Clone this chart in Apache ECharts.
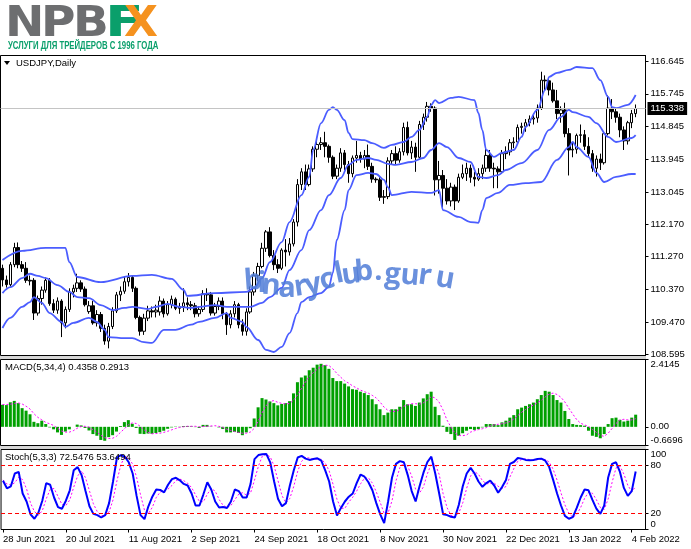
<!DOCTYPE html>
<html><head><meta charset="utf-8">
<script src="https://cdn.jsdelivr.net/npm/echarts@6/dist/echarts.min.js"></script>
<style>html,body{margin:0;padding:0;background:#fff}#c{width:691px;height:549px}</style>
</head><body><div id="c"></div>
<script>
// ---------- DATA ----------
const tradingDays = [
 ['Jun 2021',[28,29,30]],
 ['Jul 2021',[1,2,5,6,7,8,9,12,13,14,15,16,19,20,21,22,23,26,27,28,29,30]],
 ['Aug 2021',[2,3,4,5,6,9,10,11,12,13,16,17,18,19,20,23,24,25,26,27,30,31]],
 ['Sep 2021',[1,2,3,6,7,8,9,10,13,14,15,16,17,20,21,22,23,24,27,28,29,30]],
 ['Oct 2021',[1,4,5,6,7,8,11,12,13,14,15,18,19,20,21,22,25,26,27,28,29]],
 ['Nov 2021',[1,2,3,4,5,7,8,9,10,11,12,15,16,17,18,19,22,23,24,25,26,29,30]],
 ['Dec 2021',[1,2,3,6,7,8,9,10,13,14,15,16,17,20,21,22,23,24,27,28,29,30,31]],
 ['Jan 2022',[3,4,5,6,7,10,11,12,13,14,17,18,19,20,21,24,25,26,27,28,31]],
 ['Feb 2022',[1,2,3,4,7]]
];
const categories = [];
tradingDays.forEach(([m, ds]) => ds.forEach(d => categories.push(d + ' ' + m)));
categories.push('', ''); // right-hand chart shift

const opens = [110.95,110.63,110.50,111.05,111.52,111.05,110.95,110.62,110.62,109.72,110.12,110.35,110.62,109.98,109.80,110.05,109.45,109.82,110.30,110.40,110.55,110.38,109.76,109.92,109.45,109.68,109.30,108.95,109.35,109.78,110.22,110.32,110.58,110.70,110.40,109.60,109.22,109.58,109.78,109.75,109.75,110.05,109.70,109.95,110.10,109.85,109.90,110.00,109.95,109.92,109.70,109.82,110.25,110.22,109.72,109.90,110.05,109.70,109.40,109.70,109.95,109.40,109.22,109.75,110.30,110.75,111.00,111.50,111.95,111.30,111.05,110.95,111.45,111.40,111.62,112.22,113.25,113.60,113.25,113.68,114.22,114.35,114.40,114.30,114.00,113.48,113.70,114.12,113.80,113.55,113.98,114.05,113.95,114.05,113.75,113.40,113.38,112.90,112.92,113.90,114.10,113.92,114.15,114.82,114.12,114.28,114.00,114.90,115.10,115.40,115.35,113.38,113.50,113.15,112.80,113.18,112.80,113.45,113.55,113.70,113.45,113.40,113.55,113.70,114.05,113.70,113.68,113.60,114.10,114.15,114.40,114.42,114.82,114.85,114.95,115.05,115.08,115.35,116.12,116.10,115.85,115.55,115.20,115.30,114.65,114.20,114.22,114.60,114.62,114.30,114.10,113.70,113.95,113.85,114.65,115.35,115.25,115.10,114.75,114.45,114.95,115.20];
const closes = [110.63,110.50,111.05,111.52,111.05,110.95,110.62,110.60,109.72,110.12,110.35,110.62,109.98,109.80,110.05,109.45,109.82,110.30,110.40,110.55,110.38,109.95,109.92,109.45,109.68,109.30,108.95,109.35,109.78,110.22,110.32,110.58,110.70,110.40,109.60,109.22,109.58,109.78,109.75,109.80,110.05,109.70,109.95,110.10,109.85,109.90,110.00,109.95,109.92,109.70,109.82,110.25,110.22,109.72,109.90,110.05,109.70,109.40,109.70,109.95,109.40,109.22,109.75,110.30,110.75,111.00,111.50,111.95,111.30,111.05,110.95,111.45,111.40,111.62,112.22,113.25,113.60,113.25,113.68,114.22,114.35,114.40,114.30,114.00,113.48,113.70,114.12,113.80,113.55,113.98,114.05,113.95,114.05,113.75,113.40,113.38,112.90,112.92,113.90,114.10,113.92,114.15,114.82,114.12,114.28,114.00,114.90,115.10,115.40,115.35,113.38,113.50,113.15,112.80,113.18,112.80,113.45,113.55,113.70,113.45,113.40,113.55,113.70,114.05,113.70,113.68,113.60,114.10,114.15,114.40,114.42,114.82,114.85,114.95,115.05,115.08,115.35,116.12,116.10,115.85,115.55,115.20,115.30,114.65,114.20,114.22,114.60,114.62,114.30,114.10,113.70,113.95,113.85,114.65,115.35,115.25,115.10,114.75,114.45,114.95,115.20,115.34];
const lows = [110.45,110.42,110.45,110.98,110.95,110.85,110.55,110.48,109.53,109.65,109.95,110.28,109.92,109.72,109.70,109.06,109.30,109.75,110.15,110.30,110.30,109.90,109.70,109.40,109.35,109.20,108.85,108.75,109.28,109.72,110.05,110.25,110.45,110.30,109.55,109.10,109.12,109.50,109.60,109.60,109.65,109.60,109.65,109.85,109.80,109.70,109.75,109.80,109.80,109.60,109.62,109.75,110.05,109.65,109.65,109.80,109.55,109.12,109.30,109.60,109.30,109.10,109.10,109.70,110.20,110.60,110.95,111.40,111.25,110.90,110.82,110.90,111.00,111.30,111.55,112.10,113.10,113.10,113.20,113.60,114.00,114.20,114.00,113.85,113.40,113.40,113.60,113.65,113.30,113.45,113.85,113.85,113.70,113.65,113.30,113.30,112.80,112.72,112.85,113.80,113.80,113.85,114.05,114.05,113.95,113.60,113.95,114.75,114.98,115.25,112.95,113.00,112.55,112.70,112.65,112.55,112.75,113.40,113.35,113.30,113.20,113.35,113.40,113.60,113.60,113.15,113.15,113.55,113.95,114.05,114.25,114.35,114.65,114.70,114.85,114.90,114.95,115.30,115.85,115.70,115.50,115.05,114.95,114.55,113.50,114.00,114.10,114.40,114.20,114.00,113.60,113.47,113.65,113.80,114.60,115.05,114.95,114.55,114.20,114.35,114.80,115.10];
const highs = [111.05,110.75,111.12,111.65,111.66,111.15,111.12,110.75,110.68,110.20,110.45,110.70,110.68,110.10,110.15,110.10,109.90,110.40,110.50,110.80,110.62,110.45,110.05,110.05,109.80,109.75,109.40,109.45,109.88,110.30,110.45,110.72,110.82,110.75,110.45,109.65,109.70,109.92,109.90,109.95,110.18,110.12,110.05,110.20,110.15,110.00,110.40,110.15,110.05,110.00,109.90,110.35,110.40,110.30,110.00,110.15,110.15,109.75,109.80,110.05,110.00,109.55,109.85,110.45,110.85,111.10,111.65,112.00,112.08,111.45,111.20,111.50,111.75,111.78,112.30,113.40,113.70,113.80,113.80,114.30,114.45,114.55,114.70,114.35,114.05,113.80,114.25,114.20,113.90,114.05,114.45,114.15,114.20,114.35,113.85,113.45,113.45,113.10,114.00,114.20,114.30,114.25,114.95,114.98,114.45,114.40,115.00,115.20,115.52,115.48,115.40,113.90,113.65,113.40,113.30,113.25,113.55,113.80,113.85,113.80,113.60,113.70,113.80,114.25,114.20,113.85,113.75,114.20,114.30,114.50,114.55,114.90,114.95,115.05,115.15,115.20,115.45,116.35,116.25,116.15,116.05,115.85,115.40,115.50,114.80,114.40,114.65,114.90,114.75,114.55,114.20,114.05,114.10,114.70,115.70,115.60,115.35,115.20,114.85,115.00,115.30,115.45];

const bbUpper = [[0,111.18],[5,111.43],[11,111.51],[16,111.51],[17,111.12],[19,110.71],[25,110.57],[33,110.74],[38,110.77],[43,110.66],[46,110.36],[47,110.19],[54,110.27],[62,110.30],[64,110.41],[66,110.68],[68,111.12],[71,111.67],[73,112.22],[76,112.96],[78,113.46],[79,114.20],[81,114.94],[83,115.30],[84,115.38],[85,115.30],[87,115.02],[88,114.67],[89,114.50],[92,114.47],[94,114.39],[97,114.26],[99,114.34],[102,114.42],[104,114.56],[106,114.75],[108,115.11],[109,115.44],[110,115.57],[111,115.49],[114,115.63],[116,115.66],[120,115.57],[121,115.22],[122,114.75],[123,114.20],[125,114.01],[127,114.12],[130,114.20],[132,114.56],[133,114.83],[136,115.30],[138,115.85],[139,116.21],[141,116.32],[144,116.40],[146,116.48],[150,116.45],[152,116.12],[154,115.66],[155,115.38],[156,115.35],[159,115.44],[161,115.71]];
const bbMiddle = [[0,110.27],[2,110.43],[5,110.68],[7,110.80],[9,110.74],[11,110.68],[14,110.49],[17,110.30],[19,110.16],[22,110.13],[25,109.94],[28,109.80],[31,109.86],[33,109.89],[37,109.83],[39,109.89],[42,109.97],[45,109.89],[48,109.86],[50,109.89],[54,109.94],[57,109.89],[61,109.89],[63,109.89],[66,110.00],[68,110.16],[71,110.41],[73,110.90],[76,111.45],[78,112.00],[81,112.55],[83,112.96],[86,113.43],[88,113.79],[90,113.93],[93,113.98],[95,113.93],[98,113.82],[100,113.79],[104,113.87],[107,113.98],[109,114.20],[111,114.39],[113,114.28],[116,113.98],[119,113.87],[121,113.46],[123,113.43],[126,113.51],[128,113.65],[132,113.84],[136,114.20],[139,114.75],[142,115.11],[144,115.30],[145,115.24],[149,115.11],[151,114.94],[154,114.56],[156,114.42],[160,114.53],[161,114.61]];
const bbLower = [[0,109.31],[2,109.59],[5,109.89],[7,110.02],[8,110.16],[10,110.00],[12,109.72],[15,109.48],[16,109.34],[18,109.45],[22,109.59],[24,109.48],[26,109.26],[27,109.06],[31,109.03],[33,109.03],[36,108.92],[38,108.90],[41,109.26],[44,109.26],[48,109.40],[50,109.48],[54,109.59],[57,109.72],[58,109.59],[61,109.48],[62,109.34],[65,108.98],[67,108.71],[69,108.65],[71,108.79],[73,109.17],[75,109.72],[76,110.02],[78,110.16],[81,110.27],[83,110.44],[84,110.82],[85,111.73],[87,112.55],[88,113.10],[90,113.51],[93,113.57],[95,113.54],[97,113.38],[98,113.18],[99,112.96],[104,113.05],[109,113.02],[111,113.10],[112,112.55],[116,112.36],[119,112.22],[121,112.20],[122,112.55],[123,112.88],[126,113.02],[129,113.24],[133,113.29],[137,113.32],[141,113.93],[144,114.28],[145,114.42],[146,114.28],[149,114.01],[151,113.57],[153,113.32],[156,113.46],[160,113.54],[161,113.54]];

const macdMain = [0.79,0.78,0.88,0.93,0.85,0.67,0.58,0.45,0.18,0.13,0.22,0.10,-0.02,-0.09,-0.20,-0.29,-0.17,-0.09,0.00,0.08,0.05,-0.04,-0.13,-0.26,-0.32,-0.47,-0.50,-0.37,-0.30,-0.17,0.03,0.17,0.24,0.11,-0.04,-0.25,-0.26,-0.24,-0.25,-0.22,-0.19,-0.14,-0.07,-0.02,0.01,-0.01,0.03,0.03,0.02,-0.01,-0.04,0.07,0.07,0.01,0.00,-0.02,-0.08,-0.20,-0.20,-0.18,-0.22,-0.30,-0.20,-0.05,0.30,0.70,1.03,0.98,0.91,0.85,0.77,0.82,0.85,0.92,1.20,1.60,1.77,1.84,2.03,2.12,2.23,2.26,2.21,2.08,1.75,1.64,1.64,1.55,1.45,1.35,1.33,1.26,1.21,1.14,0.99,0.81,0.63,0.42,0.51,0.63,0.63,0.72,0.96,0.81,0.81,0.75,0.87,1.02,1.17,1.26,0.72,0.42,0.04,-0.18,-0.26,-0.47,-0.32,-0.23,-0.14,-0.08,-0.11,-0.08,-0.02,0.10,0.10,0.10,0.06,0.16,0.22,0.33,0.42,0.63,0.69,0.75,0.81,0.87,0.99,1.14,1.29,1.26,1.14,0.96,0.87,0.57,0.28,0.10,0.07,0.06,0.04,-0.14,-0.32,-0.36,-0.41,-0.26,0.10,0.31,0.33,0.25,0.19,0.22,0.33,0.4358];
const macdSignal = [0.80,0.80,0.81,0.84,0.86,0.82,0.74,0.64,0.47,0.34,0.25,0.16,0.11,0.05,-0.05,-0.15,-0.19,-0.19,-0.14,-0.05,0.01,0.02,-0.01,-0.10,-0.19,-0.30,-0.39,-0.42,-0.41,-0.34,-0.20,-0.07,0.07,0.14,0.12,0.02,-0.11,-0.20,-0.25,-0.24,-0.23,-0.20,-0.16,-0.11,-0.06,-0.02,0.00,0.02,0.02,0.02,0.00,0.01,0.02,0.03,0.04,0.02,-0.02,-0.08,-0.13,-0.17,-0.20,-0.23,-0.23,-0.19,-0.06,0.19,0.50,0.75,0.91,0.94,0.88,0.84,0.82,0.84,0.95,1.14,1.37,1.60,1.81,1.94,2.06,2.16,2.21,2.20,2.08,1.92,1.78,1.65,1.57,1.47,1.40,1.32,1.26,1.21,1.13,1.04,0.89,0.71,0.59,0.55,0.55,0.62,0.74,0.78,0.83,0.83,0.81,0.86,0.95,1.08,1.04,0.89,0.61,0.25,0.00,-0.22,-0.31,-0.32,-0.29,-0.19,-0.14,-0.10,-0.07,-0.03,0.03,0.07,0.09,0.11,0.14,0.19,0.28,0.40,0.52,0.62,0.72,0.78,0.86,0.95,1.07,1.17,1.21,1.16,1.06,0.89,0.67,0.46,0.26,0.13,0.07,0.01,-0.09,-0.20,-0.31,-0.34,-0.23,-0.06,0.12,0.25,0.27,0.25,0.25,0.2913];

const stochMain = [61,51.5,54,70,72,45,35,19,13.4,21,36,58,56,40,28,26,36,49,74,78,68,48,29,19.5,18,15,18,33,60,90,93,91,84,70,42,18,13,29,41,50,49.5,46.4,56,63,64.6,61.5,57,55,45,30,30,44,59,50,35,27.5,28,27,35,50,48,40,40,57,88,93,94,94.5,84,60,38,29,33,55,74,90,92,88.6,87,88,89,86,74,60,35,17.5,27,35,41,45,58,68.7,66,59,49,33,19,8,35,65,82,85.5,84,68,48,35,54,71,84.4,91,70,45,19,18,16,15,31,54,70,77,70,60,53.4,58,61,55,46,53,62,82,84.4,89.4,88.6,87,86.5,87,88,88.6,86,78,62,45,30,17,13.4,15.5,27,40,50,49,37,26,19.5,30,65,82,84,72,52,42,48,72.5476];
const stochSignal = [62,57,55.5,58.5,65.3,62.3,50.7,33,22.5,17.8,23.5,38.3,50,51.3,41.3,31.3,30,37,53,67,73.3,64.7,48.3,32.2,22.2,17.5,17,22,37,61,81,91.3,89.3,81.7,65.3,43.3,24.3,20,27.7,40,46.8,48.6,50.6,55.1,61.2,63,61,57.8,52.3,43.3,35,34.7,44.3,51,48,37.5,30.2,27.5,30,37.3,44.3,46,42.7,45.7,61.7,79.3,91.7,93.8,90.8,79.5,60.7,42.3,33.3,39,54,73,85.3,90.2,89.2,87.9,88,87.7,83,73.3,56.3,37.5,26.5,26.5,34.3,40.3,48,57.2,64.2,64.6,58,47,33.7,20,20.7,36,60.7,77.5,83.8,79.2,66.7,50.3,45.7,53.3,69.8,82.1,81.8,68.7,44.7,27.3,17.7,16.3,20.7,33.3,51.7,67,72.3,69,61.1,57.1,57.5,58,54,51.3,53.7,65.7,76.1,85.3,87.5,88.3,87.4,86.8,87.2,87.9,87.5,84.2,75.3,61.7,45.7,30.7,20.1,15.3,18.6,27.5,39,46.3,45.3,37.3,27.5,25.2,38.2,59,77,79.3,69.3,55.3,47.3,53.6494];

const priceTicks = [108.595,109.470,110.370,111.270,112.170,113.045,113.945,114.845,115.745,116.645];
const macdTicks = [-0.6696,0,2.4145];
const stochTicks = [0,20,80,100];
const stochLevels = [20,80];
const lastPrice = 115.338;
const symbolTitle = 'USDJPY,Daily';
const macdTitle = 'MACD(5,34,4) 0.4358 0.2913';
const stochTitle = 'Stoch(5,3,3) 72.5476 53.6494';
const logoParts = ['N','P','B','F','X'];
const logoTagline = 'УСЛУГИ ДЛЯ ТРЕЙДЕРОВ С 1996 ГОДА';
const watermark = 'binaryclub.guru';

// ---------- CHART ----------
const FONT = '"Liberation Sans", Arial, sans-serif';
const chart = echarts.init(document.getElementById('c'));
const candleData = opens.map((o, i) => [o, closes[i], lows[i], highs[i]]);
const hiddenX = {type:'category', data:categories, axisLine:{show:false}, axisTick:{show:false}, axisLabel:{show:false}, splitLine:{show:false}};
const lbl = {color:'#000', fontSize:9.5, fontFamily:FONT};

// watermark letter layout (centre x, centre y, rotation deg clockwise)
const wmLayout = [[253,281,-4],[262,284,0],[271,286,4],[287,289,0],[300.5,287,-8],[313,285,-12],[327,280,-15],[339,274,-12],[351,275,-8],[364,272,-5],[378.5,272,0],[392.5,275,3],[410,276,5],[425,276,8],[445,279,10]];
const wmEls = watermark.split('').map((ch, k) => ({
  type:'text', x:wmLayout[k][0], y:wmLayout[k][1], rotation:-wmLayout[k][2]*Math.PI/180, z:50, silent:true,
  style:{text:ch, font:'bold 29px "Open Sans"', fill:'rgba(80,125,215,0.85)', align:'center', verticalAlign:'middle'}
}));
// logo letter layout: x, colour, horizontal scale
const logoLayout = [[5,'#6d6e70',1.12],[41,'#6d6e70',1.12],[73,'#6d6e70',1.12],[105,'#0a9f6b',1.35],[124,'#f5921f',1.05]];
const logoEls = logoParts.map((ch, k) => ({
  type:'text', x:logoLayout[k][0], y:25, scaleX:logoLayout[k][2], z:60 + k, silent:true,
  style:{text:ch, font:'bold 42px "DejaVu Sans"', fill:logoLayout[k][1], align:'left', verticalAlign:'middle'}
}));

const option = {
  animation:false,
  backgroundColor:'#fff',
  grid:[
    {left:0.5, top:55.5, width:645, height:300, show:true, borderColor:'#000', borderWidth:1, backgroundColor:'#fff'},
    {left:0.5, top:359.5, width:645, height:86, show:true, borderColor:'#000', borderWidth:1, backgroundColor:'#fff'},
    {left:0.5, top:449.5, width:645, height:80, show:true, borderColor:'#000', borderWidth:1, backgroundColor:'#fff'}
  ],
  xAxis:[
    Object.assign({gridIndex:0}, hiddenX),
    Object.assign({gridIndex:1}, hiddenX),
    {type:'category', gridIndex:2, data:categories, axisLine:{show:false},
     axisTick:{show:true, interval:15, alignWithLabel:true, length:3, lineStyle:{color:'#000'}},
     axisLabel:Object.assign({interval:15, align:'left', margin:5}, lbl), splitLine:{show:false}}
  ],
  yAxis:[
    {type:'value', gridIndex:0, position:'right', min:108.554, max:116.796,
     axisLine:{show:true, lineStyle:{color:'#000'}},
     axisTick:{show:true, length:3, customValues:priceTicks, lineStyle:{color:'#000'}},
     axisLabel:Object.assign({customValues:priceTicks, margin:5, formatter:v => v.toFixed(3)}, lbl),
     splitLine:{show:false}},
    {type:'value', gridIndex:1, position:'right', min:macdTicks[0], max:macdTicks[2],
     axisLine:{show:true, lineStyle:{color:'#000'}},
     axisTick:{show:true, length:3, customValues:macdTicks, lineStyle:{color:'#000'}},
     axisLabel:Object.assign({customValues:macdTicks, margin:5, verticalAlignMaxLabel:'top', verticalAlignMinLabel:'bottom',
       formatter:v => v === 0 ? '0.00' : v.toFixed(4)}, lbl),
     splitLine:{show:false}},
    {type:'value', gridIndex:2, position:'right', min:0, max:100,
     axisLine:{show:true, lineStyle:{color:'#000'}},
     axisTick:{show:true, length:3, customValues:stochTicks, lineStyle:{color:'#000'}},
     axisLabel:Object.assign({customValues:stochTicks, margin:5, verticalAlignMaxLabel:'top', verticalAlignMinLabel:'bottom',
       formatter:v => String(v)}, lbl),
     splitLine:{show:false}}
  ],
  series:[
    {type:'candlestick', xAxisIndex:0, yAxisIndex:0, data:candleData, barWidth:3, z:2,
     itemStyle:{color:'#fff', color0:'#000', borderColor:'#000', borderColor0:'#000', borderWidth:1},
     markLine:{silent:true, symbol:'none', animation:false,
       lineStyle:{color:'#c4c4c4', type:'solid', width:1},
       label:{show:true, position:'end', distance:2, formatter:lastPrice.toFixed(3), backgroundColor:'#000', color:'#fff',
              padding:[2,3,1,3], fontSize:9.5, fontFamily:FONT},
       data:[{yAxis:lastPrice}]}},
    {type:'line', xAxisIndex:0, yAxisIndex:0, data:bbUpper, symbol:'none', smooth:0.35, smoothMonotone:'x', z:3,
     lineStyle:{color:'#4b5dff', width:1.8}},
    {type:'line', xAxisIndex:0, yAxisIndex:0, data:bbMiddle, symbol:'none', smooth:0.35, smoothMonotone:'x', z:3,
     lineStyle:{color:'#4b5dff', width:1.8}},
    {type:'line', xAxisIndex:0, yAxisIndex:0, data:bbLower, symbol:'none', smooth:0.35, smoothMonotone:'x', z:3,
     lineStyle:{color:'#4b5dff', width:1.8}},
    {type:'bar', xAxisIndex:1, yAxisIndex:1, data:macdMain, barWidth:3, itemStyle:{color:'#00a000'}},
    {type:'line', xAxisIndex:1, yAxisIndex:1, data:macdSignal, symbol:'none', z:4,
     lineStyle:{color:'#ff00ff', width:1, type:[2,2]}},
    {type:'line', xAxisIndex:2, yAxisIndex:2, data:stochSignal, symbol:'none', z:3,
     lineStyle:{color:'#ff00ff', width:1, type:[2,2]}},
    {type:'line', xAxisIndex:2, yAxisIndex:2, data:stochMain, symbol:'none', z:4,
     lineStyle:{color:'#0000ff', width:2},
     markLine:{silent:true, symbol:'none', animation:false, label:{show:false},
       lineStyle:{color:'#ff0000', width:1, type:[4,3]},
       data:stochLevels.map(v => ({yAxis:v}))}}
  ],
  graphic:[
    {type:'rect', shape:{x:0, y:356, width:646, height:3}, style:{fill:'#d6d6d6'}, silent:true, z:1},
    {type:'rect', shape:{x:0, y:446, width:646, height:3}, style:{fill:'#d6d6d6'}, silent:true, z:1},
    ...logoEls,
    {type:'text', x:8, y:46.5, scaleX:0.74, z:70, silent:true,
     style:{text:logoTagline, font:'bold 10.5px "Liberation Sans"', fill:'#0a9f6b', align:'left', verticalAlign:'middle'}},
    {type:'polygon', shape:{points:[[4,61],[10,61],[7,65]]}, style:{fill:'#000'}, silent:true, z:60},
    {type:'text', x:16, y:63, z:60, silent:true, style:{text:symbolTitle, font:'9.5px ' + FONT, fill:'#000', verticalAlign:'middle'}},
    {type:'text', x:5, y:367.5, z:60, silent:true, style:{text:macdTitle, font:'9.5px ' + FONT, fill:'#000', verticalAlign:'middle'}},
    {type:'text', x:5, y:457, z:60, silent:true, style:{text:stochTitle, font:'9.5px ' + FONT, fill:'#000', verticalAlign:'middle'}},
    ...wmEls
  ]
};
chart.setOption(option);
</script>
</body></html>
